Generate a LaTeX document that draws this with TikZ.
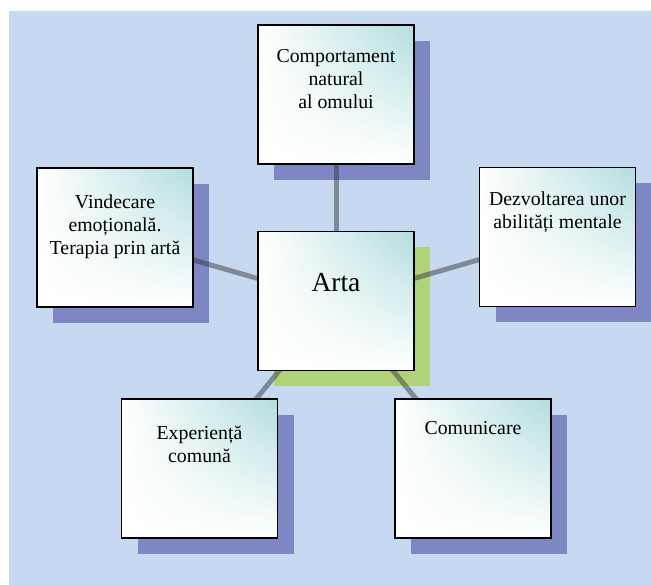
\documentclass[tikz,border=0pt]{standalone}
\usepackage{fontspec}
\setmainfont{Liberation Serif}
\usetikzlibrary{shadings}
\definecolor{bgblue}{HTML}{C6D9F1}
\definecolor{shadowblue}{HTML}{7F86C4}
\definecolor{shadowgreen}{HTML}{B0D37A}
\definecolor{boxteal}{HTML}{B2DDDE}
\definecolor{linkgray}{HTML}{2E2E2E}
\pgfdeclarelayer{bglayer}
\pgfdeclarelayer{shadowlayer}
\pgfdeclarelayer{linklayer}
\pgfsetlayers{bglayer,shadowlayer,linklayer,main}
\begin{document}
\begin{tikzpicture}[x=1pt,y=-1pt,
  box/.style={draw=black, line width=1.5pt, minimum width=156pt, minimum height=139pt,
    inner sep=0pt, upper left=white, upper right=boxteal, lower left=white, lower right=white},
  shadowbox/.style={fill=#1, draw=none, minimum width=156pt, minimum height=139pt, inner sep=0pt},
  link/.style={draw=linkgray, draw opacity=0.46, line width=5pt},
  txt/.style={align=center, inner sep=0pt, anchor=base, font=\fontsize{19.8pt}{23pt}\selectfont},
  bigtxt/.style={inner sep=0pt, anchor=base, font=\fontsize{27.5pt}{32pt}\selectfont}]
\useasboundingbox (0,0) rectangle (651,585);
\begin{pgfonlayer}{bglayer}
\fill[bgblue] (9,11) rectangle (651,585);
\end{pgfonlayer}

% boxes
\node[box] (T) at (336,94.5) {};
\node[box] (A) at (336,301) {};
\node[box] (L) at (115,237.5) {};
\node[box] (R) at (557.5,237) {};
\node[box] (BL) at (199.5,468.5) {};
\node[box] (BR) at (473,468.5) {};

% shadows
\begin{pgfonlayer}{shadowlayer}
\node[shadowbox=shadowblue] (Ts) at (352,110.5) {};
\node[shadowbox=shadowgreen] (As) at (352,317) {};
\node[shadowbox=shadowblue] (Ls) at (131,253.5) {};
\node[shadowbox=shadowblue] (Rs) at (573.5,253) {};
\node[shadowbox=shadowblue] (BLs) at (215.5,484.5) {};
\node[shadowbox=shadowblue] (BRs) at (489,484.5) {};
\end{pgfonlayer}

% connectors
\begin{pgfonlayer}{linklayer}
\draw[link] (A.center) -- (T.center);
\draw[link] (A.center) -- (L.center);
\draw[link] (A.center) -- (R.center);
\draw[link] (A.center) -- (BL.center);
\draw[link] (A.center) -- (BR.center);
\end{pgfonlayer}

% texts (anchor base = baseline of the last line)
\node[txt] (Tt) at (336,109) {Comportament\\natural\\al omului};
\node[bigtxt] (At) at (336,292) {Arta};
\node[txt] (Lt) at (115,255) {Vindecare\\emoțională.\\Terapia prin artă};
\node[txt] (Rt) at (557.5,229) {Dezvoltarea unor\\abilități mentale};
\node[txt] (BLt) at (199.5,462) {Experiență\\comună};
\node[txt] (BRt) at (473,435) {Comunicare};
\end{tikzpicture}
\end{document}
